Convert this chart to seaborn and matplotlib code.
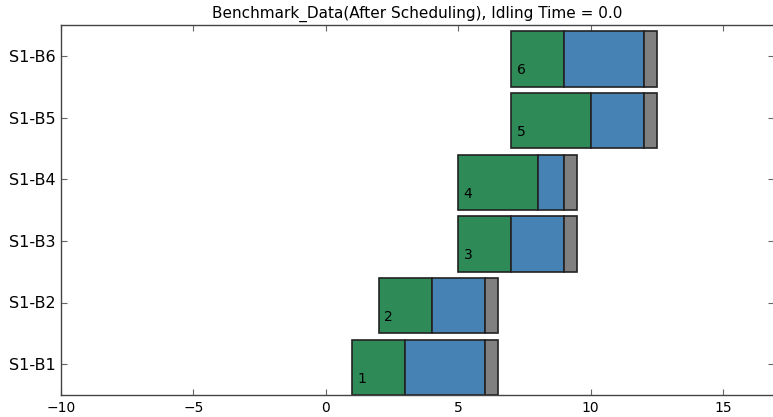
import matplotlib
matplotlib.use("Agg")
import matplotlib.pyplot as plt
import seaborn as sns
import pandas as pd

# ---- data ----
tasks = ["S1-B1", "S1-B2", "S1-B3", "S1-B4", "S1-B5", "S1-B6"]
task_ids = ["1", "2", "3", "4", "5", "6"]
start = [1, 2, 5, 5, 7, 7]
green_dur = [2, 2, 2, 3, 3, 2]
blue_dur = [3, 2, 2, 1, 2, 3]
gray_dur = [0.5, 0.5, 0.5, 0.5, 0.5, 0.5]
title = "Benchmark_Data(After Scheduling), Idling Time = 0.0"

sns.set_theme(style="white")
plt.rcParams["font.family"] = ["DejaVu Sans"]
plt.rcParams["text.color"] = "black"
plt.rcParams["xtick.color"] = "black"
plt.rcParams["ytick.color"] = "black"

df = pd.DataFrame({"task": tasks, "start": start, "green": green_dur,
                   "blue": blue_dur, "gray": gray_dur})
df["blue_start"] = df["start"] + df["green"]
df["gray_start"] = df["blue_start"] + df["blue"]

fig = plt.figure(figsize=(7.73, 4.17), dpi=100)
ax = fig.add_axes([61 / 773, 22 / 417, 713 / 773, 370 / 417])

segs = [("green", "start", "#2e8b57"),
        ("blue", "blue_start", "#4682b4"),
        ("gray", "gray_start", "#808080")]
for col, left_col, color in segs:
    sns.barplot(data=df, y="task", x=col, order=tasks, orient="h",
                left=df[left_col].values, color=color, saturation=1,
                edgecolor="#222222", linewidth=1.2, width=0.9,
                errorbar=None, ax=ax)

for i, (s, lab) in enumerate(zip(start, task_ids)):
    ax.text(s + 0.2, i - 0.45 + 0.2, lab, ha="left", va="baseline",
            fontsize=10, color="black")

ax.set_xlim(-10, 16.92)
ax.set_ylim(-0.45, 5.55)
ax.set_yticks([i + 0.05 for i in range(len(tasks))])
ax.set_yticklabels(tasks, fontsize=11.5)
ax.set_xticks([-10, -5, 0, 5, 10, 15])
ax.tick_params(axis="x", labelsize=10)
ax.tick_params(direction="in", length=4, width=0.8, color="#666666",
               labelcolor="black",
               top=True, right=True, bottom=True, left=True, pad=4)
ax.set_xlabel("")
ax.set_ylabel("")
for sp in ax.spines.values():
    sp.set_visible(True)
    sp.set_color("#444444")
    sp.set_linewidth(1.0)
ax.set_title(title, fontsize=11, pad=5, color="black")

fig.savefig("out.png", dpi=100)
